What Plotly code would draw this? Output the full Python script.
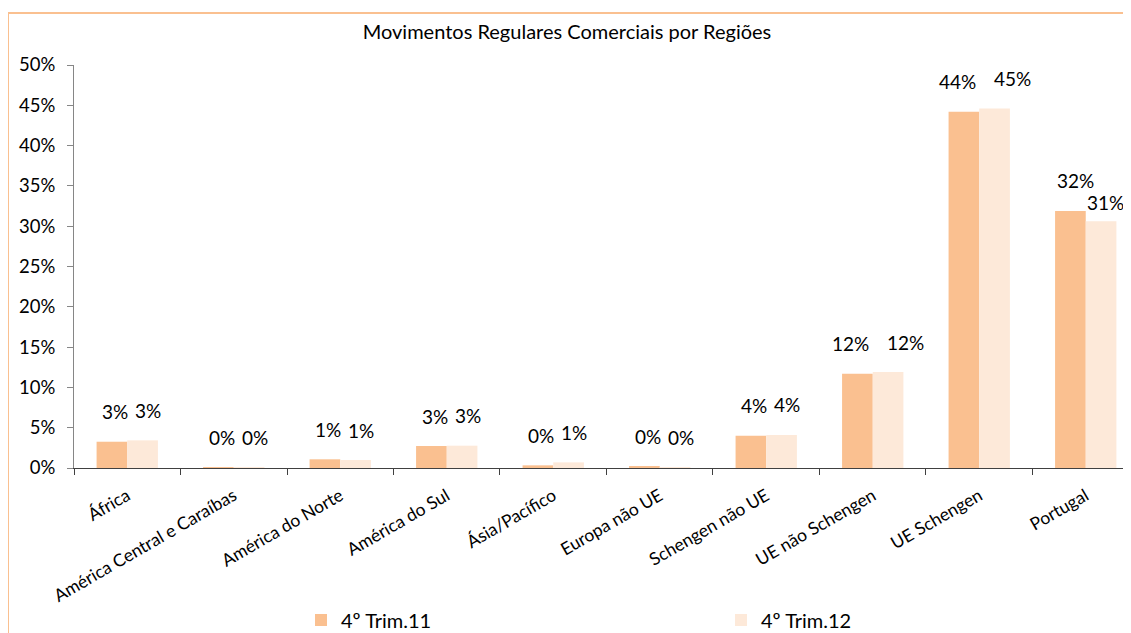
import plotly.graph_objects as go

categories = ["África", "América Central e Caraíbas", "América do Norte", "América do Sul",
              "Ásia/Pacífico", "Europa não UE", "Schengen não UE", "UE não Schengen",
              "UE Schengen", "Portugal"]
series_names = ["4º Trim.11", "4º Trim.12"]
trim11 = [3.26, 0.03, 1.08, 2.73, 0.33, 0.17, 4.0, 11.7, 44.2, 31.9]
trim12 = [3.43, 0.02, 0.99, 2.77, 0.70, 0.08, 4.1, 11.9, 44.6, 30.6]
labels11 = ["3%", "0%", "1%", "3%", "0%", "0%", "4%", "12%", "44%", "32%"]
labels12 = ["3%", "0%", "1%", "3%", "1%", "0%", "4%", "12%", "45%", "31%"]
y_ticks = [0, 5, 10, 15, 20, 25, 30, 35, 40, 45, 50]
y_tick_labels = ["0%", "5%", "10%", "15%", "20%", "25%", "30%", "35%", "40%", "45%", "50%"]

# The page body adds an 8px offset; figure coordinates below compensate for it.
FONT = "Lato, 'Open Sans', sans-serif"
C1 = "#FAC090"
C2 = "#FDE9D9"
BORDER = "#FAC090"
W, H = 1131, 633
ML, MR, MT, MB = 66, 8, 57, 173
PW = W - ML - MR
PH = H - MT - MB

fig = go.Figure()
fig.add_trace(go.Bar(x=categories, y=trim11, name=series_names[0], marker_color=C1,
                     marker_line_width=0))
fig.add_trace(go.Bar(x=categories, y=trim12, name=series_names[1], marker_color=C2,
                     marker_line_width=0))

annotations = []
last = len(categories) - 1
for i, cat in enumerate(categories):
    wide1 = len(labels11[i]) > 2
    wide2 = len(labels12[i]) > 2
    a1 = dict(x=cat, y=trim11[i], text=labels11[i], xref="x", yref="y",
              showarrow=False, xshift=-22 if wide1 else -12, yshift=30, yanchor="middle",
              font=dict(size=19, color="black", family=FONT))
    a2 = dict(x=cat, y=trim12[i], text=labels12[i], xref="x", yref="y",
              showarrow=False, xshift=33 if wide2 else 21, yshift=30, yanchor="middle",
              font=dict(size=19, color="black", family=FONT))
    if i == last:
        # keep the last label inside the chart area, slightly lower (as in the reference)
        a1["xshift"] = -10
        a2.update(xanchor="right", xshift=40, yshift=19)
    annotations += [a1, a2]

fig.update_layout(
    width=W, height=H,
    margin=dict(l=ML, r=MR, t=MT, b=MB, autoexpand=False),
    paper_bgcolor="white", plot_bgcolor="white",
    font=dict(family=FONT, size=17, color="black"),
    barmode="group", bargap=0.424, bargroupgap=0,
    title=dict(text="Movimentos Regulares Comerciais por Regiões", x=559 / W, xref="container",
               y=1 - 24 / H, yref="container", yanchor="middle", xanchor="center",
               font=dict(size=20, family=FONT, color="black")),
    showlegend=True,
    legend=dict(orientation="h", xref="container", yref="container",
                x=293 / W, xanchor="left", y=1 - 612 / H, yanchor="middle",
                entrywidth=375, entrywidthmode="pixels",
                font=dict(size=20, family=FONT, color="black"), bgcolor="rgba(0,0,0,0)"),
    annotations=annotations,
    shapes=[dict(type="rect", xref="paper", yref="paper", x0=-66 / PW, x1=1.2,
                 y0=-0.6, y1=(PH + MT - 5) / PH, line=dict(color=BORDER, width=2),
                 fillcolor="rgba(0,0,0,0)", layer="below")],
)
fig.update_xaxes(type="category", range=[-0.5, 9.425], tickson="boundaries",
                 ticks="outside", ticklen=6, tickcolor="#404040", showline=True,
                 linecolor="#404040", linewidth=1, tickangle=-30, showgrid=False,
                 automargin=False, ticklabelstandoff=10, tickfont=dict(size=17.5, family=FONT))
fig.update_yaxes(range=[0, 50], tickmode="array", tickvals=y_ticks, ticktext=y_tick_labels,
                 ticks="outside", ticklen=6, tickcolor="#868686", showline=True,
                 linecolor="#868686", linewidth=1, showgrid=False, zeroline=False,
                 automargin=False, ticklabelstandoff=8, tickfont=dict(size=18.5, family=FONT))

fig.write_html("out.html")
